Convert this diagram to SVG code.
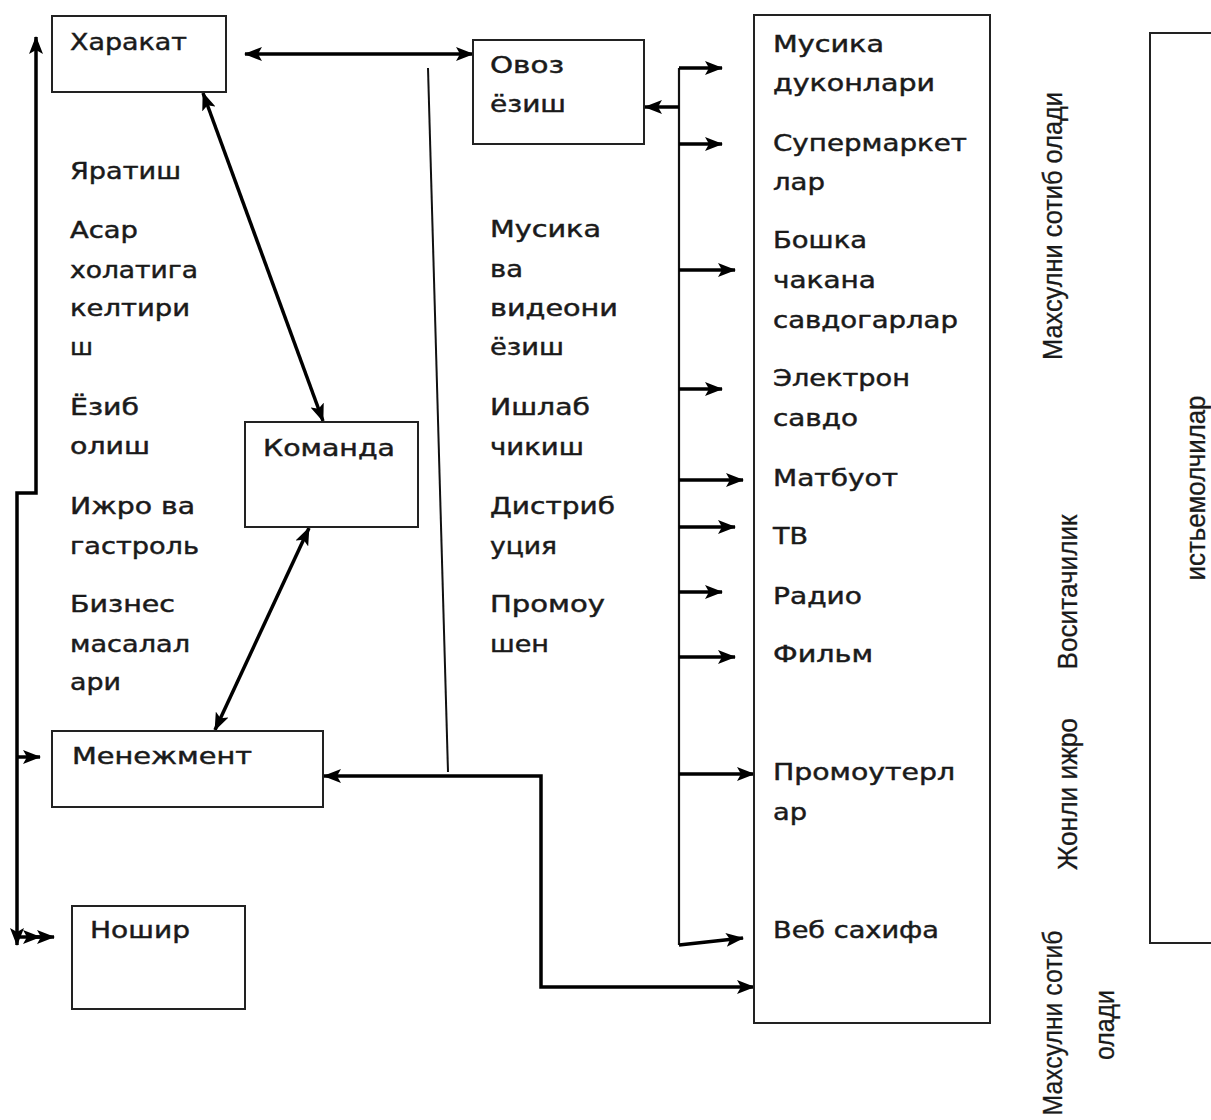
<svg xmlns="http://www.w3.org/2000/svg" width="1211" height="1120" viewBox="0 0 1211 1120">
  <style>
    .box { fill: #fff; stroke: #222; stroke-width: 2; }
    .t { font-family: "DejaVu Sans", Verdana, sans-serif; font-size: 23px; fill: #1a1a1a; stroke: #1a1a1a; stroke-width: 0.45; }
    .v { font-family: "Liberation Sans", Arial, sans-serif; font-size: 27px; fill: #1a1a1a; stroke: #1a1a1a; stroke-width: 0.3; }
    .wire { fill: none; stroke: #000; stroke-width: 3.5; }
    .bus { fill: none; stroke: #111; stroke-width: 2.2; }
    .thin { fill: none; stroke: #111; stroke-width: 2; }
  </style>
  <defs>
    <marker id="ah" markerUnits="userSpaceOnUse" markerWidth="18" markerHeight="14" refX="17" refY="7" orient="auto-start-reverse">
      <path d="M0,0 L18,7 L0,14 L4,7 z" fill="#000"/>
    </marker>
  </defs>

  <rect width="1211" height="1120" fill="#fff"/>

  <!-- connectors -->
  <g id="connectors">
    <!-- left feedback bus -->
    <path class="wire" d="M17,945 V493 H36 V37" marker-start="url(#ah)" marker-end="url(#ah)"/>
    <path class="wire" d="M17,757 H40" marker-end="url(#ah)"/>
    <path class="wire" d="M17,937 H40" marker-end="url(#ah)"/>
    <path class="wire" d="M36,937 H54" marker-end="url(#ah)"/>

    <!-- Харакат links -->
    <path class="wire" d="M245,54 H473" marker-start="url(#ah)" marker-end="url(#ah)"/>
    <path class="wire" d="M203,93 L323,421" marker-start="url(#ah)" marker-end="url(#ah)"/>
    <path class="wire" d="M309,528 L215,730" marker-start="url(#ah)" marker-end="url(#ah)"/>

    <!-- divider between creative and industry sides -->
    <path class="thin" d="M428,68 L448,772"/>

    <!-- Менежмент to distribution box -->
    <path class="wire" d="M324,776 H541 V987 H754" marker-start="url(#ah)" marker-end="url(#ah)"/>

    <!-- distribution bus -->
    <path class="bus" d="M679,68 V945"/>
    <path class="wire" d="M679,107 H645" marker-end="url(#ah)"/>
    <path class="wire" d="M679,68 H722" marker-end="url(#ah)"/>
    <path class="wire" d="M679,144 H722" marker-end="url(#ah)"/>
    <path class="wire" d="M679,270 H735" marker-end="url(#ah)"/>
    <path class="wire" d="M679,389 H722" marker-end="url(#ah)"/>
    <path class="wire" d="M679,480 H743" marker-end="url(#ah)"/>
    <path class="wire" d="M679,527 H735" marker-end="url(#ah)"/>
    <path class="wire" d="M679,592 H722" marker-end="url(#ah)"/>
    <path class="wire" d="M679,657 H735" marker-end="url(#ah)"/>
    <path class="wire" d="M679,774 H754" marker-end="url(#ah)"/>
    <path class="wire" d="M679,945 L743,938" marker-end="url(#ah)"/>
  </g>

  <!-- nodes -->
  <g id="harakat">
    <rect class="box" x="52" y="16" width="174" height="76"/>
    <text class="t" x="70" y="50" textLength="117" lengthAdjust="spacingAndGlyphs">Харакат</text>
  </g>

  <g id="ovoz">
    <rect class="box" x="473" y="40" width="171" height="104"/>
    <text class="t" x="490" y="73" textLength="74" lengthAdjust="spacingAndGlyphs">Овоз</text>
    <text class="t" x="490" y="112" textLength="76" lengthAdjust="spacingAndGlyphs">ёзиш</text>
  </g>

  <g id="komanda">
    <rect class="box" x="245" y="422" width="173" height="105"/>
    <text class="t" x="263" y="456" textLength="132" lengthAdjust="spacingAndGlyphs">Команда</text>
  </g>

  <g id="menejment">
    <rect class="box" x="52" y="731" width="271" height="76"/>
    <text class="t" x="72" y="764" textLength="180" lengthAdjust="spacingAndGlyphs">Менежмент</text>
  </g>

  <g id="noshir">
    <rect class="box" x="72" y="906" width="173" height="103"/>
    <text class="t" x="90" y="938" textLength="100" lengthAdjust="spacingAndGlyphs">Ношир</text>
  </g>

  <g id="artist-activities">
    <text class="t" x="70" y="179" textLength="111" lengthAdjust="spacingAndGlyphs">Яратиш</text>
    <text class="t" x="70" y="238" textLength="68" lengthAdjust="spacingAndGlyphs">Асар</text>
    <text class="t" x="70" y="278" textLength="128" lengthAdjust="spacingAndGlyphs">холатига</text>
    <text class="t" x="70" y="316" textLength="120" lengthAdjust="spacingAndGlyphs">келтири</text>
    <text class="t" x="70" y="355" textLength="23" lengthAdjust="spacingAndGlyphs">ш</text>
    <text class="t" x="70" y="415" textLength="69" lengthAdjust="spacingAndGlyphs">Ёзиб</text>
    <text class="t" x="70" y="454" textLength="80" lengthAdjust="spacingAndGlyphs">олиш</text>
    <text class="t" x="70" y="514" textLength="125" lengthAdjust="spacingAndGlyphs">Ижро ва</text>
    <text class="t" x="70" y="554" textLength="129" lengthAdjust="spacingAndGlyphs">гастроль</text>
    <text class="t" x="70" y="612" textLength="105" lengthAdjust="spacingAndGlyphs">Бизнес</text>
    <text class="t" x="70" y="652" textLength="120" lengthAdjust="spacingAndGlyphs">масалал</text>
    <text class="t" x="70" y="690" textLength="51" lengthAdjust="spacingAndGlyphs">ари</text>
  </g>

  <g id="industry-activities">
    <text class="t" x="490" y="237" textLength="111" lengthAdjust="spacingAndGlyphs">Мусика</text>
    <text class="t" x="490" y="277" textLength="33" lengthAdjust="spacingAndGlyphs">ва</text>
    <text class="t" x="490" y="316" textLength="128" lengthAdjust="spacingAndGlyphs">видеони</text>
    <text class="t" x="490" y="355" textLength="74" lengthAdjust="spacingAndGlyphs">ёзиш</text>
    <text class="t" x="490" y="415" textLength="100" lengthAdjust="spacingAndGlyphs">Ишлаб</text>
    <text class="t" x="490" y="455" textLength="94" lengthAdjust="spacingAndGlyphs">чикиш</text>
    <text class="t" x="490" y="514" textLength="125" lengthAdjust="spacingAndGlyphs">Дистриб</text>
    <text class="t" x="490" y="554" textLength="67" lengthAdjust="spacingAndGlyphs">уция</text>
    <text class="t" x="490" y="612" textLength="115" lengthAdjust="spacingAndGlyphs">Промоу</text>
    <text class="t" x="490" y="652" textLength="59" lengthAdjust="spacingAndGlyphs">шен</text>
  </g>

  <g id="channels">
    <rect class="box" x="754" y="15" width="236" height="1008"/>
    <text class="t" x="773" y="52" textLength="111" lengthAdjust="spacingAndGlyphs">Мусика</text>
    <text class="t" x="773" y="91" textLength="162" lengthAdjust="spacingAndGlyphs">дуконлари</text>
    <text class="t" x="773" y="151" textLength="194" lengthAdjust="spacingAndGlyphs">Супермаркет</text>
    <text class="t" x="773" y="190" textLength="52" lengthAdjust="spacingAndGlyphs">лар</text>
    <text class="t" x="773" y="248" textLength="94" lengthAdjust="spacingAndGlyphs">Бошка</text>
    <text class="t" x="773" y="288" textLength="103" lengthAdjust="spacingAndGlyphs">чакана</text>
    <text class="t" x="773" y="328" textLength="185" lengthAdjust="spacingAndGlyphs">савдогарлар</text>
    <text class="t" x="773" y="386" textLength="137" lengthAdjust="spacingAndGlyphs">Электрон</text>
    <text class="t" x="773" y="426" textLength="85" lengthAdjust="spacingAndGlyphs">савдо</text>
    <text class="t" x="773" y="486" textLength="125" lengthAdjust="spacingAndGlyphs">Матбуот</text>
    <text class="t" x="773" y="544" textLength="35" lengthAdjust="spacingAndGlyphs">ТВ</text>
    <text class="t" x="773" y="604" textLength="89" lengthAdjust="spacingAndGlyphs">Радио</text>
    <text class="t" x="773" y="662" textLength="100" lengthAdjust="spacingAndGlyphs">Фильм</text>
    <text class="t" x="773" y="780" textLength="182" lengthAdjust="spacingAndGlyphs">Промоутерл</text>
    <text class="t" x="773" y="820" textLength="34" lengthAdjust="spacingAndGlyphs">ар</text>
    <text class="t" x="773" y="938" textLength="166" lengthAdjust="spacingAndGlyphs">Веб сахифа</text>
  </g>

  <g id="flow-labels">
    <text class="v" text-anchor="middle" transform="translate(1062,226) rotate(-90)" textLength="268" lengthAdjust="spacingAndGlyphs">Махсулни сотиб олади</text>
    <text class="v" text-anchor="middle" transform="translate(1077,592) rotate(-90)" textLength="155" lengthAdjust="spacingAndGlyphs">Воситачилик</text>
    <text class="v" text-anchor="middle" transform="translate(1077,794) rotate(-90)" textLength="152" lengthAdjust="spacingAndGlyphs">Жонли ижро</text>
    <text class="v" text-anchor="middle" transform="translate(1062,1023) rotate(-90)" textLength="185" lengthAdjust="spacingAndGlyphs">Махсулни сотиб</text>
    <text class="v" text-anchor="middle" transform="translate(1114,1025) rotate(-90)" textLength="70" lengthAdjust="spacingAndGlyphs">олади</text>
  </g>

  <g id="consumers">
    <rect class="box" x="1150" y="33" width="90" height="910"/>
    <text class="v" text-anchor="middle" transform="translate(1205,488) rotate(-90)" textLength="185" lengthAdjust="spacingAndGlyphs">истьемолчилар</text>
  </g>
</svg>
